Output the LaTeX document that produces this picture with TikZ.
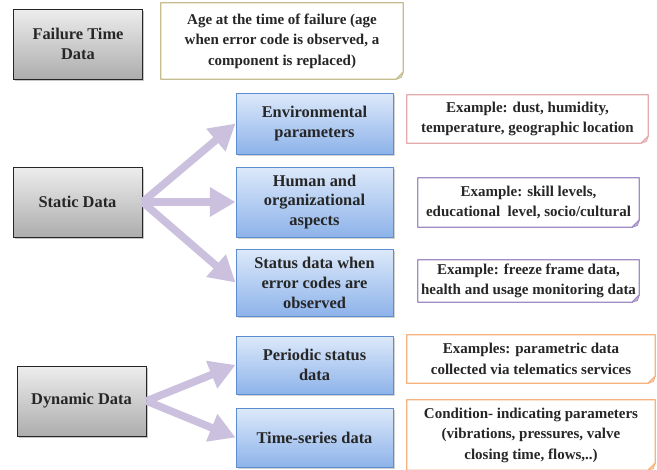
\documentclass[tikz,border=0pt]{standalone}
\usepackage{fontspec}
\setmainfont{Liberation Serif}
\usepackage{tikz}
\usetikzlibrary{arrows.meta,shadows}
\definecolor{GrayTop}{HTML}{EDEDED}
\definecolor{GrayBottom}{HTML}{ADADAD}
\definecolor{BlueTop}{HTML}{DDE9FA}
\definecolor{BlueBottom}{HTML}{8DB3EA}
\definecolor{BlueEdge}{HTML}{5B8DD0}
\definecolor{ArrowLilac}{HTML}{CBC1DE}
\definecolor{NoteKhaki}{HTML}{C6BD8F}
\definecolor{NotePink}{HTML}{E3ABAB}
\definecolor{NotePurple}{HTML}{A18DC6}
\definecolor{NoteOrange}{HTML}{F6B27F}
\definecolor{TextDark}{HTML}{262626}
\begin{document}
\begin{tikzpicture}[
    x=0.03cm,y=-0.03cm,
    every node/.style={font=\fontsize{14}{17}\selectfont\bfseries,text=TextDark,align=center,inner sep=0pt},
    graybox/.style={draw=black!85,line width=0.8pt,top color=GrayTop,bottom color=GrayBottom,
      minimum width=129*0.03cm,minimum height=70*0.03cm,
      drop shadow={shadow xshift=1.5pt,shadow yshift=-1.5pt,opacity=0.45}},
    bluebox/.style={draw=BlueEdge,line width=0.8pt,top color=BlueTop,bottom color=BlueBottom,
      minimum width=157*0.03cm,minimum height=#1*0.03cm,
      drop shadow={shadow xshift=1.5pt,shadow yshift=-1.5pt,opacity=0.35}},
    notebox/.style n args={2}{minimum width=#1*0.03cm,minimum height=#2*0.03cm,fill=white,
      font=\fontsize{12.8}{17.5}\selectfont\bfseries},
    fatarrow/.style={draw=ArrowLilac,line width=6.5pt,-{Triangle[width=24pt,length=22pt]}}
  ]
    \useasboundingbox (0,0) rectangle (657,469);

    \node[graybox] (failure) at (78,44) {Failure Time\\Data};
    \node[graybox] (static) at (77.5,202) {Static Data};
    \node[graybox] (dynamic) at (81.5,401) {Dynamic Data};

    \node[bluebox=61] (env) at (314.5,123.5) {Environmental\\parameters};
    \node[bluebox=70] (human) at (314.5,202) {Human and\\organizational\\aspects};
    \node[bluebox=67] (status) at (314.5,282.5) {Status data when\\error codes are\\observed};
    \node[bluebox=58] (periodic) at (314.5,365) {Periodic status\\data};
    \node[bluebox=59] (series) at (314.5,437.5) {Time-series data};

    \node[notebox={242}{76}] (age) at (282,41) {Age at the time of failure (age\\when error code is observed, a\\component is replaced)};
    \node[notebox={241}{48}] (envex) at (527.5,119) {Example: dust, humidity,\\temperature, geographic location};
    \node[notebox={221}{49}] (humex) at (528.5,202.5) {Example: skill levels,\\educational\ \ level, socio/cultural};
    \node[notebox={221}{42}] (statex) at (528.5,281) {Example: freeze frame data,\\health and usage monitoring data};
    \node[notebox={248}{48}] (perex) at (531,359) {Examples: parametric data\\collected via telematics services};
    \node[notebox={248}{70}] (serex) at (531,435) {Condition- indicating parameters\\(vibrations, pressures, valve\\closing time, flows,..)};

    \foreach \n/\c in {age/NoteKhaki,envex/NotePink,humex/NotePurple,statex/NotePurple,perex/NoteOrange,serex/NoteOrange}{
      \draw[\c,line width=1.2pt,line join=round] (\n.north west) -- (\n.north east)
        -- ([yshift=6pt]\n.south east) -- ([xshift=-6pt]\n.south east) -- (\n.south west) -- cycle;
      \fill[\c!70,draw=\c,line width=0.6pt] ([yshift=6pt]\n.south east) -- ([xshift=-6pt]\n.south east)
        -- ([xshift=-1.5pt,yshift=1.5pt]\n.south east) -- cycle;
    }

    \draw[fatarrow] (static.east) -- (env.west);
    \draw[fatarrow] (static.east) -- (human.west);
    \draw[fatarrow] (static.east) -- (status.west);
    \draw[fatarrow] (dynamic.east) -- (periodic.west);
    \draw[fatarrow] (dynamic.east) -- (series.west);
\end{tikzpicture}
\end{document}
